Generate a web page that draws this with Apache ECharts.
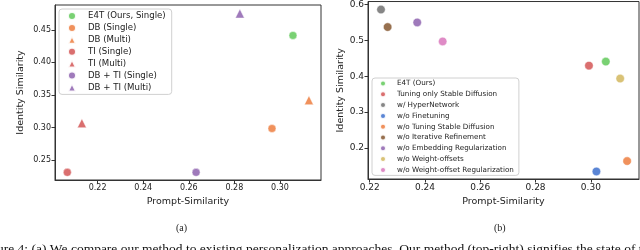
<!DOCTYPE html>
<html><head><meta charset="utf-8">
<script src="https://cdn.jsdelivr.net/npm/echarts@6/dist/echarts.min.js"></script>
<style>html,body{margin:0;padding:0;background:#fff}#c{width:640px;height:250px}</style>
</head><body><div id="c"></div>
<script>
// ---- Panel (a) data ----
const aNames = ["E4T (Ours, Single)","DB (Single)","DB (Multi)","TI (Single)","TI (Multi)","DB + TI (Single)","DB + TI (Multi)"];
const aX = [0.3057, 0.2965, 0.3127, 0.2067, 0.2131, 0.2632, 0.2824];
const aY = [0.4413, 0.2985, 0.3420, 0.2312, 0.3067, 0.2312, 0.4749];
const aShapes = ["circle","circle","triangle","circle","triangle","circle","triangle"];
const aColors = ["#6acc64","#ee854a","#ee854a","#d65f5f","#d65f5f","#956cb4","#956cb4"];
const aXTicks = [0.22, 0.24, 0.26, 0.28, 0.30];
const aYTicks = [0.25, 0.30, 0.35, 0.40, 0.45];

// ---- Panel (b) data ----
const bNames = ["E4T (Ours)","Tuning only Stable Diffusion","w/ HyperNetwork","w/o Finetuning","w/o Tuning Stable Diffusion","w/o Iterative Refinement","w/o Embedding Regularization","w/o Weight-offsets","w/o Weight-offset Regularization"];
const bX = [0.3054, 0.2993, 0.2241, 0.3020, 0.3131, 0.2265, 0.2372, 0.3106, 0.2464];
const bY = [0.4406, 0.4294, 0.5860, 0.1340, 0.1630, 0.5370, 0.5500, 0.3933, 0.4970];
const bColors = ["#6acc64","#d65f5f","#797979","#4878d0","#ee854a","#8c613c","#956cb4","#d5bb67","#dc7ec0"];
const bXTicks = [0.22, 0.24, 0.26, 0.28, 0.30];
const bYTicks = [0.2, 0.3, 0.4, 0.5, 0.6];

const FONT = "DejaVu Sans";
const frame = '#333';

function xAxis(gi, min, max, ticks, fs, dec) {
  return {
    type: 'value', gridIndex: gi, min: min, max: max,
    name: 'Prompt-Similarity', nameLocation: 'middle', nameGap: 17,
    nameTextStyle: {fontFamily: FONT, fontSize: 9.5, color: '#222'},
    axisLine: {show: true, lineStyle: {color: frame, width: 1}},
    axisTick: {show: true, length: 3.5, lineStyle: {color: frame}, customValues: ticks},
    axisLabel: {fontFamily: FONT, fontSize: fs, color: '#222', margin: 4, customValues: ticks,
                formatter: v => v.toFixed(dec)},
    splitLine: {show: false}
  };
}
function yAxis(gi, min, max, ticks, fs, dec, gap) {
  return {
    type: 'value', gridIndex: gi, min: min, max: max,
    name: 'Identity Similarity', nameLocation: 'middle', nameGap: gap, nameRotate: 90,
    nameTextStyle: {fontFamily: FONT, fontSize: 9.5, color: '#222'},
    axisLine: {show: true, lineStyle: {color: frame, width: 1}},
    axisTick: {show: true, length: 3.5, lineStyle: {color: frame}, customValues: ticks},
    axisLabel: {fontFamily: FONT, fontSize: fs, color: '#222', margin: 4, customValues: ticks,
                formatter: v => v.toFixed(dec)},
    splitLine: {show: false}
  };
}

const series = [];
aNames.forEach((n, i) => {
  series.push({
    name: n, type: 'scatter', xAxisIndex: 0, yAxisIndex: 0,
    symbol: aShapes[i], symbolSize: aShapes[i] === 'triangle' ? 9 : 8,
    itemStyle: {color: aColors[i], opacity: 0.9, borderColor: '#fff', borderWidth: 0.5},
    data: [[aX[i], aY[i]]], z: 3
  });
});
bNames.forEach((n, i) => {
  series.push({
    name: n, type: 'scatter', xAxisIndex: 1, yAxisIndex: 1,
    symbol: 'circle', symbolSize: 8.5,
    itemStyle: {color: bColors[i], opacity: 0.9, borderColor: '#fff', borderWidth: 0.5},
    data: [[bX[i], bY[i]]], z: 3
  });
});

const chart = echarts.init(document.getElementById('c'), null, {renderer: 'canvas'});
chart.setOption({
  animation: false,
  backgroundColor: '#fff',
  grid: [
    {left: 55, top: 5, width: 266, height: 175, show: true, borderColor: frame, borderWidth: 1, containLabel: false},
    {left: 368, top: 1, width: 271, height: 178, show: true, borderColor: frame, borderWidth: 1, containLabel: false}
  ],
  xAxis: [xAxis(0, 0.2013, 0.318, aXTicks, 8, 2), xAxis(1, 0.2194, 0.3174, bXTicks, 9, 2)],
  yAxis: [yAxis(0, 0.2195, 0.488, aYTicks, 8, 2, 29), yAxis(1, 0.113, 0.6083, bYTicks, 9, 1, 22)],
  legend: [
    {data: aNames, orient: 'vertical', left: 59, top: 9, itemWidth: 8, itemHeight: 8, itemGap: 1.9,
     padding: [2, 6, 2, 8], backgroundColor: 'rgba(255,255,255,0.85)', borderColor: '#d0d0d0', borderWidth: 1, borderRadius: 3,
     textStyle: {fontFamily: FONT, fontSize: 8.6, color: '#222', lineHeight: 10, padding: [0, 0, 0, 7]}, selectedMode: false},
    {data: bNames, orient: 'vertical', left: 372, top: 78, itemWidth: 6, itemHeight: 6, itemGap: 1.8,
     padding: [1, 5, 1, 7], backgroundColor: 'rgba(255,255,255,0.85)', borderColor: '#d0d0d0', borderWidth: 1, borderRadius: 3,
     textStyle: {fontFamily: FONT, fontSize: 7.2, color: '#222', lineHeight: 9, padding: [0, 0, 0, 6]}, selectedMode: false}
  ],
  graphic: [
    {type: 'text', left: 176, top: 223, style: {text: '(a)', font: '10px "Liberation Serif"', fill: '#222'}},
    {type: 'text', left: 494, top: 223, style: {text: '(b)', font: '10px "Liberation Serif"', fill: '#222'}},
    {type: 'text', x: -21, y: 242, style: {text: 'Figure 4: (a) We compare our method to existing personalization approaches. Our method (top-right) signifies the state of the art',
      font: '13.5px "Liberation Serif"', fill: '#111', textVerticalAlign: 'top'}}
  ],
  series: series
});
</script></body></html>
